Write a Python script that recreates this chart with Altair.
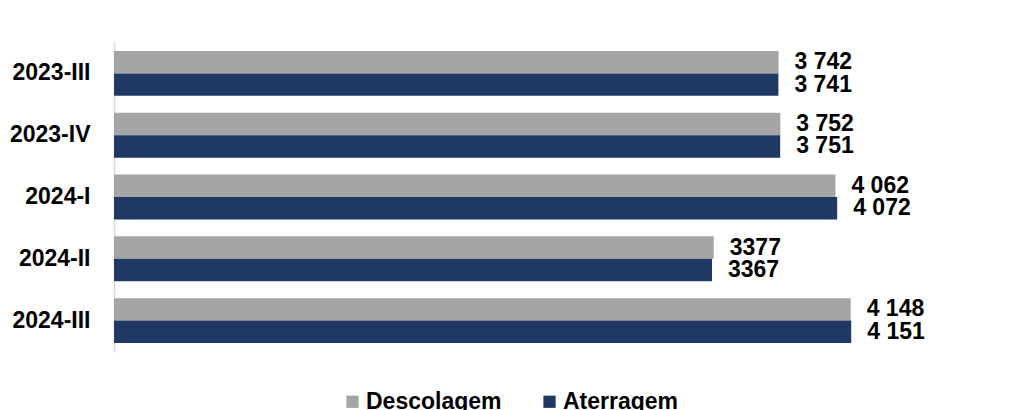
import altair as alt
import pandas as pd

periods = ["2023-III", "2023-IV", "2024-I", "2024-II", "2024-III"]
series_names = ["Descolagem", "Aterragem"]
descolagem = [3742, 3752, 4062, 3377, 4148]
aterragem = [3741, 3751, 4072, 3367, 4151]
descolagem_labels = ["3 742", "3 752", "4 062", "3377", "4 148"]
aterragem_labels = ["3 741", "3 751", "4 072", "3367", "4 151"]
colors = ["#a5a5a5", "#203864"]

rows = []
for i, p in enumerate(periods):
    rows.append({"period": p, "series": series_names[0], "value": descolagem[i], "label": descolagem_labels[i]})
    rows.append({"period": p, "series": series_names[1], "value": aterragem[i], "label": aterragem_labels[i]})
df = pd.DataFrame(rows)

FONT = "Liberation Sans"

y_enc = alt.Y("period:N", sort=periods, title=None,
              scale=alt.Scale(paddingInner=0.274, paddingOuter=0.145),
              axis=alt.Axis(labelFontSize=23, labelFontWeight="bold", labelColor="#000000",
                            labelFont=FONT, labelPadding=24, ticks=False,
                            domainColor="#d9d9d9", domainWidth=1.5))
yoff = alt.YOffset("series:N", sort=series_names,
                   scale=alt.Scale(paddingInner=0, paddingOuter=0))
x_enc = alt.X("value:Q", scale=alt.Scale(domain=[0, 5000]), axis=None)

bars = alt.Chart(df).mark_bar().encode(
    x=x_enc, y=y_enc, yOffset=yoff,
    color=alt.Color("series:N", sort=series_names,
                    scale=alt.Scale(domain=series_names, range=colors),
                    legend=alt.Legend(title=None, orient="none", legendX=227, legendY=348,
                                      direction="horizontal", columns=2,
                                      symbolType="square", symbolSize=150, symbolStrokeWidth=0,
                                      labelFontSize=23, labelFontWeight="bold", labelFont=FONT,
                                      labelColor="#000000", labelOffset=2, columnPadding=36)),
)

text = alt.Chart(df).mark_text(align="left", baseline="middle", dx=16, fontSize=23,
                               fontWeight="bold", font=FONT, color="#000000").encode(
    x=x_enc, y=y_enc, yOffset=yoff, text="label:N"
)

chart = (bars + text).properties(
    width=888, height=310,
    background="white",
    autosize=alt.AutoSizeParams(type="none"),
    padding={"left": 106, "top": 34, "right": 7, "bottom": 58},
).configure_view(strokeWidth=0, stroke="transparent")

chart.save("out.html", embed_options={"renderer": "svg", "actions": False})
